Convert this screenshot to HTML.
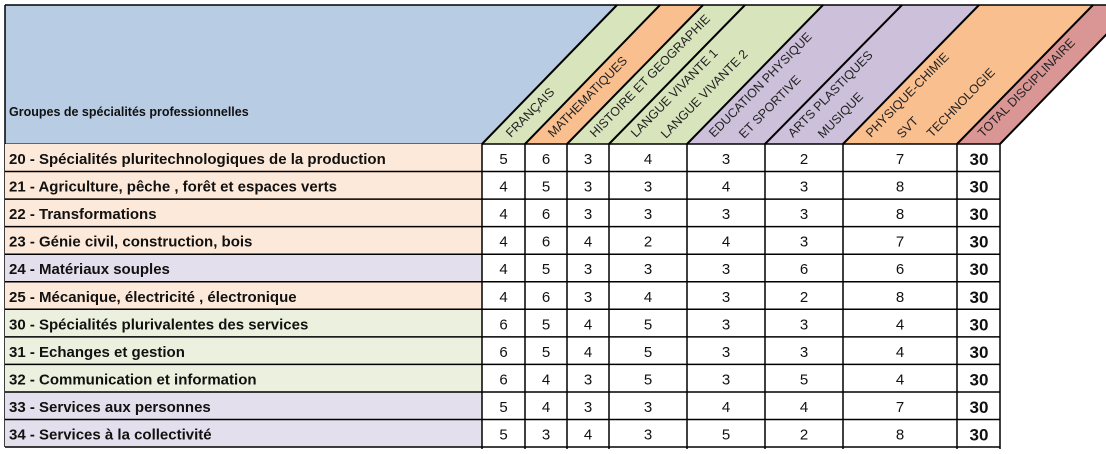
<!DOCTYPE html>
<html><head><meta charset="utf-8"><style>
html,body{margin:0;padding:0;background:#fff;}
svg{display:block;}
</style></head><body>
<svg width="1106" height="454" xmlns="http://www.w3.org/2000/svg" font-family="Liberation Sans, Arial, sans-serif">
<polygon points="5,5 617,5 482,144 5,144" fill="#b8cce4"/>
<polygon points="617,5 660,5 525,144 482,144" fill="#d8e4bc"/>
<polygon points="660,5 703,5 567,144 525,144" fill="#fabf8f"/>
<polygon points="703,5 823,5 687,144 567,144" fill="#d8e4bc"/>
<polygon points="823,5 979,5 843,144 687,144" fill="#ccc0da"/>
<polygon points="979,5 1093,5 957,144 843,144" fill="#fabf8f"/>
<polygon points="1093,5 1135,5 1000,144 957,144" fill="#da9694"/>
<line x1="5" y1="5" x2="1106" y2="5" stroke="#000" stroke-width="1.5"/>
<line x1="5" y1="5" x2="5" y2="447" stroke="#000" stroke-width="1.5"/>
<line x1="5" y1="144" x2="482" y2="144" stroke="#000" stroke-width="1"/>
<g stroke="#000" stroke-width="2">
<line x1="482" y1="144" x2="617" y2="5"/>
<line x1="525" y1="144" x2="660" y2="5"/>
<line x1="567" y1="144" x2="703" y2="5"/>
<line x1="609" y1="144" x2="745" y2="5"/>
<line x1="687" y1="144" x2="823" y2="5"/>
<line x1="765" y1="144" x2="902" y2="5"/>
<line x1="843" y1="144" x2="979" y2="5"/>
<line x1="957" y1="144" x2="1093" y2="5"/>
<line x1="1000" y1="144" x2="1135" y2="5"/>
</g>
<text x="9" y="116" font-size="12.5" font-weight="bold" fill="#111">Groupes de spécialités professionnelles</text>
<g font-size="12.5" fill="#222">
<text transform="translate(511,138) rotate(-45.6)">FRANÇAIS</text>
<text transform="translate(553,138) rotate(-45.6)">MATHEMATIQUES</text>
<text transform="translate(595,138) rotate(-45.6)">HISTOIRE ET GEOGRAPHIE</text>
<text transform="translate(636,138) rotate(-45.6)">LANGUE VIVANTE 1</text>
<text transform="translate(666,139) rotate(-45.6)">LANGUE VIVANTE 2</text>
<text transform="translate(714,138) rotate(-45.6)">EDUCATION PHYSIQUE</text>
<text transform="translate(744,139) rotate(-45.6)">ET SPORTIVE</text>
<text transform="translate(793,138) rotate(-45.6)">ARTS PLASTIQUES</text>
<text transform="translate(823,139) rotate(-45.6)">MUSIQUE</text>
<text transform="translate(871,138) rotate(-45.6)">PHYSIQUE-CHIMIE</text>
<text transform="translate(902,139) rotate(-45.6)">SVT</text>
<text transform="translate(932,138) rotate(-45.6)">TECHNOLOGIE</text>
<text transform="translate(983,138) rotate(-45.6)">TOTAL DISCIPLINAIRE</text>
</g>
<!-- row backgrounds -->
<rect x="5" y="144" width="477" height="165.3" fill="#fde9d9"/>
<rect x="5" y="254.2" width="477" height="27.55" fill="#e4dfec"/>
<rect x="5" y="309.3" width="477" height="82.65" fill="#ebf1de"/>
<rect x="5" y="391.95" width="477" height="55.1" fill="#e4dfec"/>
<g font-size="15" font-weight="bold" fill="#111">
<text x="9" y="164">20 - Spécialités pluritechnologiques de la production</text>
<text x="9" y="191.55">21 - Agriculture, pêche , forêt et espaces verts</text>
<text x="9" y="219.1">22 - Transformations</text>
<text x="9" y="246.65">23 - Génie civil, construction, bois</text>
<text x="9" y="274.2">24 - Matériaux souples</text>
<text x="9" y="301.75">25 - Mécanique, électricité , électronique</text>
<text x="9" y="329.3">30 - Spécialités plurivalentes des services</text>
<text x="9" y="356.85">31 - Echanges et gestion</text>
<text x="9" y="384.4">32 - Communication et information</text>
<text x="9" y="411.95">33 - Services aux personnes</text>
<text x="9" y="439.5">34 - Services à la collectivité</text>
</g>
<g font-size="15" fill="#111" text-anchor="middle">
<text x="503.5" y="164">5</text><text x="546" y="164">6</text><text x="588" y="164">3</text><text x="648" y="164">4</text><text x="726" y="164">3</text><text x="804" y="164">2</text><text x="900" y="164">7</text>
<text x="503.5" y="191.55">4</text><text x="546" y="191.55">5</text><text x="588" y="191.55">3</text><text x="648" y="191.55">3</text><text x="726" y="191.55">4</text><text x="804" y="191.55">3</text><text x="900" y="191.55">8</text>
<text x="503.5" y="219.1">4</text><text x="546" y="219.1">6</text><text x="588" y="219.1">3</text><text x="648" y="219.1">3</text><text x="726" y="219.1">3</text><text x="804" y="219.1">3</text><text x="900" y="219.1">8</text>
<text x="503.5" y="246.65">4</text><text x="546" y="246.65">6</text><text x="588" y="246.65">4</text><text x="648" y="246.65">2</text><text x="726" y="246.65">4</text><text x="804" y="246.65">3</text><text x="900" y="246.65">7</text>
<text x="503.5" y="274.2">4</text><text x="546" y="274.2">5</text><text x="588" y="274.2">3</text><text x="648" y="274.2">3</text><text x="726" y="274.2">3</text><text x="804" y="274.2">6</text><text x="900" y="274.2">6</text>
<text x="503.5" y="301.75">4</text><text x="546" y="301.75">6</text><text x="588" y="301.75">3</text><text x="648" y="301.75">4</text><text x="726" y="301.75">3</text><text x="804" y="301.75">2</text><text x="900" y="301.75">8</text>
<text x="503.5" y="329.3">6</text><text x="546" y="329.3">5</text><text x="588" y="329.3">4</text><text x="648" y="329.3">5</text><text x="726" y="329.3">3</text><text x="804" y="329.3">3</text><text x="900" y="329.3">4</text>
<text x="503.5" y="356.85">6</text><text x="546" y="356.85">5</text><text x="588" y="356.85">4</text><text x="648" y="356.85">5</text><text x="726" y="356.85">3</text><text x="804" y="356.85">3</text><text x="900" y="356.85">4</text>
<text x="503.5" y="384.4">6</text><text x="546" y="384.4">4</text><text x="588" y="384.4">3</text><text x="648" y="384.4">5</text><text x="726" y="384.4">3</text><text x="804" y="384.4">5</text><text x="900" y="384.4">4</text>
<text x="503.5" y="411.95">5</text><text x="546" y="411.95">4</text><text x="588" y="411.95">3</text><text x="648" y="411.95">3</text><text x="726" y="411.95">4</text><text x="804" y="411.95">4</text><text x="900" y="411.95">7</text>
<text x="503.5" y="439.5">5</text><text x="546" y="439.5">3</text><text x="588" y="439.5">4</text><text x="648" y="439.5">3</text><text x="726" y="439.5">5</text><text x="804" y="439.5">2</text><text x="900" y="439.5">8</text>
</g>
<g font-size="17" font-weight="bold" fill="#111" text-anchor="middle">
<text x="979" y="165">30</text><text x="979" y="192.55">30</text><text x="979" y="220.1">30</text><text x="979" y="247.65">30</text><text x="979" y="275.2">30</text><text x="979" y="302.75">30</text><text x="979" y="330.3">30</text><text x="979" y="357.85">30</text><text x="979" y="385.4">30</text><text x="979" y="412.95">30</text><text x="979" y="440.5">30</text>
</g>
<g stroke="#000" stroke-width="1.5">
<line x1="482" y1="144" x2="1000" y2="144"/>
<line x1="5" y1="171.55" x2="1000" y2="171.55"/>
<line x1="5" y1="199.1" x2="1000" y2="199.1"/>
<line x1="5" y1="226.65" x2="1000" y2="226.65"/>
<line x1="5" y1="254.2" x2="1000" y2="254.2"/>
<line x1="5" y1="281.75" x2="1000" y2="281.75"/>
<line x1="5" y1="309.3" x2="1000" y2="309.3"/>
<line x1="5" y1="336.85" x2="1000" y2="336.85"/>
<line x1="5" y1="364.4" x2="1000" y2="364.4"/>
<line x1="5" y1="391.95" x2="1000" y2="391.95"/>
<line x1="5" y1="419.5" x2="1000" y2="419.5"/>
<line x1="5" y1="447.05" x2="1000" y2="447.05"/>
<line x1="482" y1="144" x2="482" y2="449"/>
<line x1="525" y1="144" x2="525" y2="449"/>
<line x1="567" y1="144" x2="567" y2="449"/>
<line x1="609" y1="144" x2="609" y2="449"/>
<line x1="687" y1="144" x2="687" y2="449"/>
<line x1="765" y1="144" x2="765" y2="449"/>
<line x1="843" y1="144" x2="843" y2="449"/>
<line x1="957" y1="144" x2="957" y2="449"/>
<line x1="1000" y1="144" x2="1000" y2="449"/>
</g>
</svg>
</body></html>
